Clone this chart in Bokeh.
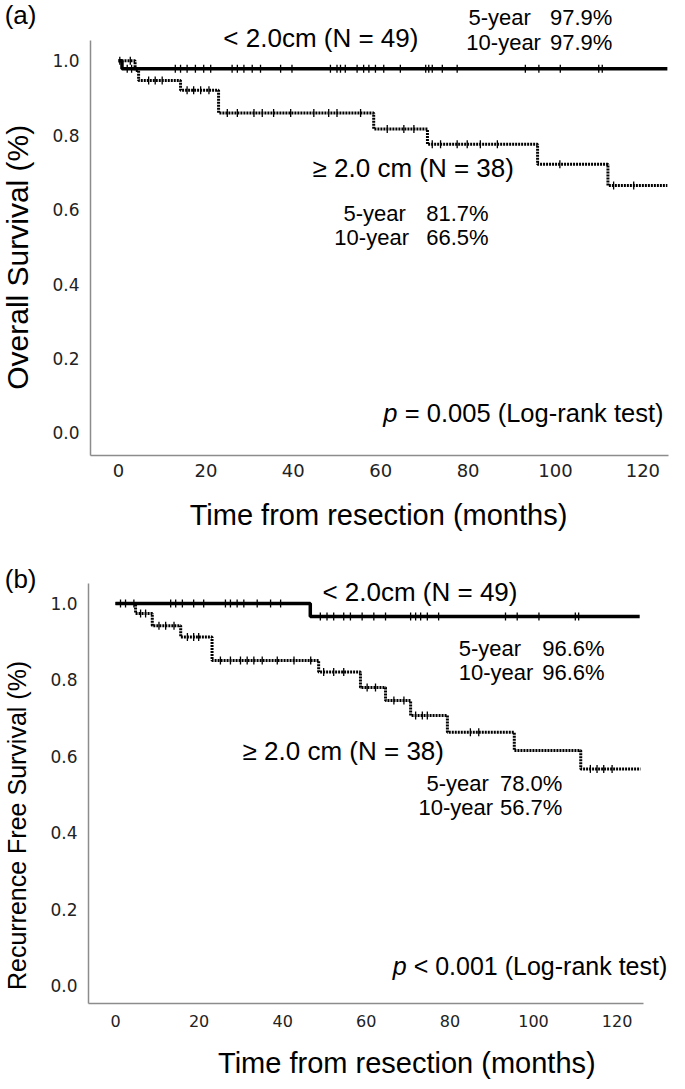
import numpy as np
from bokeh.plotting import figure
from bokeh.models import Label, FixedTicker, Range1d, PrintfTickFormatter
from bokeh.layouts import column
from bokeh.embed import file_html
from bokeh.resources import INLINE

# ---------------- data ----------------
x_ticks = [0, 20, 40, 60, 80, 100, 120]
y_ticks = [0.0, 0.2, 0.4, 0.6, 0.8, 1.0]

# (a) Overall survival
os_small_t = [0, 0.8, 125.6]
os_small_s = [1.0, 0.979, 0.979]
os_small_cens = [0.3, 2.0, 3.0, 13.0, 14.2, 15.7, 17.6, 19.5, 21.1, 26.0, 27.2, 28.7,
                 30.6, 32.5, 37.1, 39.7, 48.5, 50.0, 50.8, 51.9, 54.6, 56.1, 57.3, 58.8,
                 60.7, 64.5, 70.3, 71.0, 71.8, 74.1, 77.5, 93.1, 96.2, 101.1, 109.9, 110.7]
os_large_t = [0, 3.8, 4.6, 14.2, 22.9, 58.4, 70.7, 95.9, 112.0, 125.6]
os_large_s = [1.0, 0.974, 0.947, 0.921, 0.86, 0.817, 0.776, 0.722, 0.665, 0.665]
os_large_cens = [2.7, 6.9, 8.4, 10.0, 15.7, 17.2, 18.8, 20.7, 24.9, 27.2, 31.0, 32.9,
                 35.5, 39.4, 44.7, 48.1, 50.0, 55.4, 61.5, 65.3, 67.6, 71.8, 73.7, 77.5,
                 79.8, 82.8, 86.7, 101.0, 113.3, 117.9]

# (b) Recurrence free survival
rfs_small_t = [0, 46.6, 125.4]
rfs_small_s = [1.0, 0.966, 0.966]
rfs_small_cens = [1.2, 2.4, 4.4, 13.2, 14.4, 16.0, 18.7, 21.1, 26.3, 27.5, 29.1, 30.7,
                  33.9, 37.1, 39.5, 49.0, 50.6, 52.2, 54.6, 56.2, 59.0, 61.8, 64.6, 70.6,
                  71.8, 73.0, 74.6, 77.3, 93.3, 96.1, 101.3, 110.0, 110.8]
rfs_large_t = [0, 4.8, 8.8, 15.6, 23.1, 48.6, 58.6, 64.6, 70.6, 79.4, 95.4, 111.3, 125.6]
rfs_large_s = [1.0, 0.974, 0.942, 0.912, 0.851, 0.821, 0.78, 0.746, 0.707, 0.663, 0.615, 0.567, 0.567]
rfs_large_cens = [6.0, 7.2, 10.4, 12.0, 14.0, 17.2, 18.7, 19.9, 25.1, 27.5, 29.9, 31.5,
                  33.1, 35.1, 38.7, 42.7, 46.7, 49.8, 52.2, 54.6, 60.2, 62.2, 66.6, 69.0,
                  71.8, 73.4, 74.6, 84.9, 86.9, 113.6, 115.2, 116.8, 118.8]

ANN = "Liberation Sans"
TICKF = "DejaVu Sans"


def surv_at(t, s, c):
    idx = np.searchsorted(np.asarray(t), np.asarray(c), side="right") - 1
    return np.asarray(s)[idx]


def make_fig(width, height, xr, yr, xb, yb, xtick_size, xstand):
    # frame spans the whole canvas; axes are drawn at fixed locations with bounds
    p = figure(width=width, height=height, x_range=Range1d(*xr), y_range=Range1d(*yr),
               output_backend="svg", toolbar_location=None,
               min_border_left=0, min_border_right=0, min_border_top=0, min_border_bottom=0)
    p.xgrid.visible = False
    p.ygrid.visible = False
    p.outline_line_color = None
    for ax in (p.xaxis[0], p.yaxis[0]):
        ax.axis_line_color = "#8c8c8c"
        ax.axis_line_width = 1.5
        ax.major_tick_line_color = None
        ax.minor_tick_line_color = None
        ax.major_label_text_font = TICKF
        ax.major_label_text_color = "#222222"
    p.xaxis[0].major_label_standoff = xstand
    p.yaxis[0].major_label_standoff = 5
    p.xaxis[0].ticker = FixedTicker(ticks=x_ticks)
    p.yaxis[0].ticker = FixedTicker(ticks=y_ticks)
    p.yaxis[0].formatter = PrintfTickFormatter(format="%.1f")
    p.xaxis[0].major_label_text_font_size = f"{xtick_size}px"
    p.yaxis[0].major_label_text_font_size = "17px"
    p.xaxis[0].bounds = xb
    p.yaxis[0].bounds = yb
    p.xaxis[0].fixed_location = yb[0]
    p.yaxis[0].fixed_location = xb[0]
    return p


def draw_curves(p, st, ss, sc, lt, ls, lc):
    p.step(lt, ls, mode="after", line_color="black", line_width=3, line_dash="2 1")
    p.step(st, ss, mode="after", line_color="black", line_width=3.5)
    p.scatter(lc, surv_at(lt, ls, lc), marker="dash", angle=np.pi / 2, size=8,
              line_color="black", line_width=1.3)
    p.scatter(sc, surv_at(st, ss, sc), marker="dash", angle=np.pi / 2, size=8,
              line_color="black", line_width=1.3)


def lab(p, x, y, text, size, align="left", style="normal", xoff=0, angle=0.0):
    p.add_layout(Label(x=x, y=y, text=text, text_font=ANN, text_font_size=f"{size}px",
                       text_align=align, text_baseline="middle", text_color="black",
                       text_font_style=style, x_offset=xoff, angle=angle))


# ---------------- panel (a) ----------------
p1 = make_fig(685, 548, (-27.0, 129.75), (-0.3108, 1.1622),
              (-6.4, 125.9), (-0.0595, 1.054), 18, 3)
draw_curves(p1, os_small_t, os_small_s, os_small_cens, os_large_t, os_large_s, os_large_cens)
lab(p1, -22.4, 1.122, "(a)", 26, align="center")
lab(p1, -23.1, 0.472, "Overall Survival (%)", 30, align="center", angle=np.pi / 2)
lab(p1, 59.5, -0.2216, "Time from resection (months)", 29, align="center")
lab(p1, 24.0, 1.062, "< 2.0cm (N = 49)", 26)
lab(p1, 80.1, 1.116, "5-year", 22)
lab(p1, 113.0, 1.116, "97.9%", 22, align="right")
lab(p1, 79.6, 1.049, "10-year", 22)
lab(p1, 113.0, 1.049, "97.9%", 22, align="right")
lab(p1, 44.4, 0.711, "\u2265 2.0 cm (N = 38)", 26)
lab(p1, 51.5, 0.589, "5-year", 22)
lab(p1, 84.7, 0.589, "81.7%", 22, align="right")
lab(p1, 49.4, 0.524, "10-year", 22)
lab(p1, 84.7, 0.524, "66.5%", 22, align="right")
lab(p1, 60.6, 0.054, "p", 25.5, style="italic")
lab(p1, 60.6, 0.054, "= 0.005 (Log-rank test)", 25.5, xoff=21.5)

# ---------------- panel (b) ----------------
p2 = make_fig(685, 541, (-27.51, 136.36), (-0.2723, 1.144),
              (-6.46, 126.3), (-0.047, 1.052), 16, 6)
draw_curves(p2, rfs_small_t, rfs_small_s, rfs_small_cens, rfs_large_t, rfs_large_s, rfs_large_cens)
lab(p2, -22.7, 1.065, "(b)", 26, align="center")
lab(p2, -23.5, 0.419, "Recurrence Free Survival (%)", 25, align="center", angle=np.pi / 2)
lab(p2, 69.7, -0.204, "Time from resection (months)", 29, align="center")
lab(p2, 49.5, 1.029, "< 2.0cm (N = 49)", 26)
lab(p2, 82.1, 0.882, "5-year", 22)
lab(p2, 117.0, 0.882, "96.6%", 22, align="right")
lab(p2, 82.1, 0.819, "10-year", 22)
lab(p2, 117.0, 0.819, "96.6%", 22, align="right")
lab(p2, 30.4, 0.615, "\u2265 2.0 cm (N = 38)", 26)
lab(p2, 74.4, 0.529, "5-year", 22)
lab(p2, 106.9, 0.529, "78.0%", 22, align="right")
lab(p2, 72.5, 0.466, "10-year", 22)
lab(p2, 106.9, 0.466, "56.7%", 22, align="right")
lab(p2, 66.3, 0.052, "p", 25, style="italic")
lab(p2, 66.3, 0.052, "< 0.001 (Log-rank test)", 25, xoff=21)

layout = column(p1, p2, spacing=0)
open("out.html", "w").write(file_html(layout, INLINE))
